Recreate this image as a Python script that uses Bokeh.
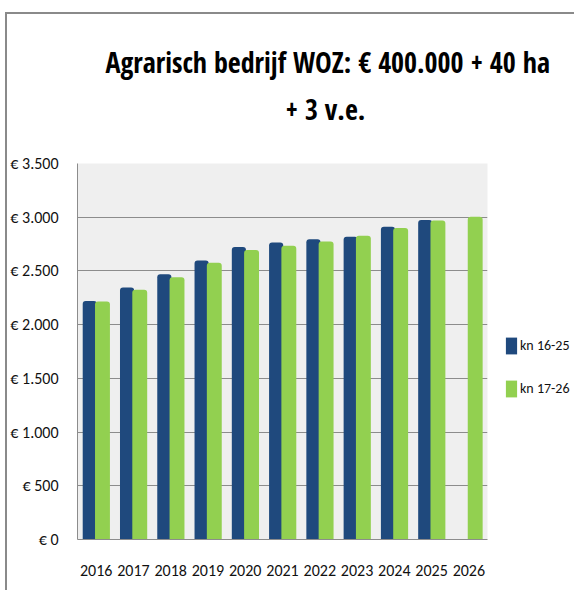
from bokeh.plotting import figure
from bokeh.models import (ColumnDataSource, FactorRange, Range1d, FixedTicker, Legend,
                          LegendItem, Title)
from bokeh.layouts import column
from bokeh.transform import dodge
from bokeh.embed import file_html
from bokeh.resources import INLINE

# ---- data ----
years = ["2016", "2017", "2018", "2019", "2020", "2021", "2022", "2023", "2024", "2025", "2026"]
kn_16_25 = [2220, 2345, 2470, 2598, 2722, 2765, 2796, 2818, 2911, 2973, None]
kn_17_26 = [2215, 2325, 2440, 2576, 2694, 2734, 2775, 2828, 2899, 2970, 3004]
series_names = ["kn 16-25", "kn 17-26"]
y_ticks = [0, 500, 1000, 1500, 2000, 2500, 3000, 3500]
y_tick_labels = ["€ 0", "€ 500", "€ 1.000", "€ 1.500", "€ 2.000", "€ 2.500", "€ 3.000", "€ 3.500"]
title_lines = ["Agrarisch bedrijf WOZ: € 400.000 + 40 ha", "+ 3 v.e."]

FONT = "Carlito"
TITLE_FONT = "Open Sans Condensed"
BLUE = "#1F497D"
GREEN = "#92D050"

blue_src = ColumnDataSource(dict(x=[y for y, v in zip(years, kn_16_25) if v is not None],
                                 top=[v for v in kn_16_25 if v is not None]))
green_src = ColumnDataSource(dict(x=years, top=kn_17_26))

p = figure(frame_width=410, frame_height=376, x_range=FactorRange(*years), y_range=Range1d(0, 3500),
           output_backend="svg", toolbar_location=None,
           min_border_left=65, min_border_right=89, min_border_top=149, min_border_bottom=51)
p.background_fill_color = "#EFEFEF"
p.border_fill_color = "white"
p.outline_line_color = None

r1 = p.vbar(x=dodge("x", -0.17, range=p.x_range), top="top", width=0.38, source=blue_src,
            fill_color=BLUE, line_color=None, border_radius=(3, 3, 0, 0))
r2 = p.vbar(x=dodge("x", 0.17, range=p.x_range), top="top", width=0.40, source=green_src,
            fill_color=GREEN, line_color=None, border_radius=(3, 3, 0, 0))

# axes
p.yaxis.ticker = FixedTicker(ticks=y_ticks)
p.yaxis.major_label_overrides = {t: l for t, l in zip(y_ticks, y_tick_labels)}
for ax in (p.xaxis[0], p.yaxis[0]):
    ax.axis_line_color = "#8C8C8C"
    ax.axis_line_width = 1
    ax.major_tick_line_color = None
    ax.minor_tick_line_color = None
    ax.major_label_text_font = FONT
    ax.major_label_text_font_size = "16px"
    ax.major_label_text_color = "#111111"
p.yaxis.major_label_standoff = 13
p.xaxis.major_label_standoff = 19

p.xgrid.grid_line_color = None
p.ygrid.grid_line_color = "#8C8C8C"
p.ygrid.grid_line_width = 1

# legend
legend = Legend(items=[LegendItem(label=series_names[0], renderers=[r1]),
                       LegendItem(label=series_names[1], renderers=[r2])],
                location=(17, 140), orientation="vertical",
                glyph_width=14, glyph_height=21, label_height=21, spacing=22,
                label_standoff=2, padding=0, margin=0,
                border_line_color=None, background_fill_alpha=0,
                label_text_font=FONT, label_text_font_size="14px", label_text_color="#111111")
p.add_layout(legend, "right")

# title (two lines) with a blank spacer next to the plot area
spacer = Title(text=" ", text_font_size="1px", standoff=26)
t2 = Title(text=title_lines[1], align="left", offset=208, text_font=TITLE_FONT,
           text_font_size="28px", text_font_style="bold", text_color="black", standoff=14)
t1 = Title(text=title_lines[0], align="left", offset=28, text_font=TITLE_FONT,
           text_font_size="28px", text_font_style="bold", text_color="black", standoff=0)
p.add_layout(spacer, "above")
p.add_layout(t2, "above")
p.add_layout(t1, "above")

layout = column(p, margin=(12, 0, 0, 5),
                styles={"border-top": "2px solid #8A8A8A", "border-left": "2px solid #8A8A8A"})

open("out.html", "w").write(file_html(layout, INLINE))
